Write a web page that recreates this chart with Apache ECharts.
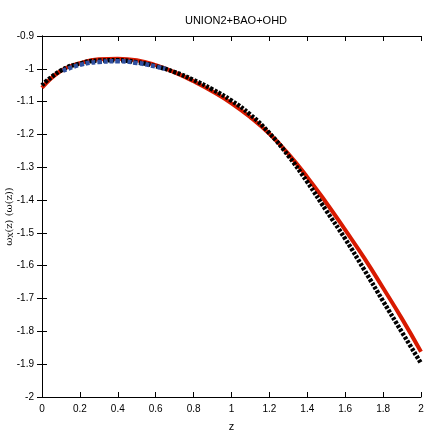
<!DOCTYPE html>
<html>
<head>
<meta charset="utf-8">
<script src="https://cdn.jsdelivr.net/npm/echarts@6/dist/echarts.min.js"></script>
<style>
  html, body { margin: 0; padding: 0; background: #fff; }
  #chart { width: 436px; height: 436px; }
</style>
</head>
<body>
<div id="chart"></div>
<script>
// redshift samples
const zValues = [0, 0.1, 0.2, 0.3, 0.4, 0.5, 0.6, 0.7, 0.8, 0.9, 1.0,
  1.1, 1.2, 1.3, 1.4, 1.5, 1.6, 1.7, 1.8, 1.9, 2.0];
// red solid curve
const redValues = [-1.058, -1.006, -0.983, -0.971, -0.969, -0.974, -0.989, -1.011, -1.038, -1.069, -1.105,
  -1.148, -1.198, -1.259, -1.330, -1.408, -1.491, -1.576, -1.668, -1.762, -1.862];
// black dotted curve
const blackValues = [-1.050, -1.005, -0.984, -0.975, -0.974, -0.980, -0.992, -1.010, -1.034, -1.063, -1.097,
  -1.140, -1.196, -1.265, -1.345, -1.432, -1.518, -1.612, -1.708, -1.803, -1.897];
// blue dashed segment
const blueZ = [0.11, 0.2, 0.3, 0.4, 0.5, 0.6, 0.65];
const blueValues = [-1.006, -0.988, -0.979, -0.977, -0.982, -0.993, -1.000];

const font = "Liberation Sans Narrow, Liberation Sans, sans-serif";

function pairs(xs, ys) {
  return xs.map((x, i) => [x, ys[i]]);
}

const chart = echarts.init(document.getElementById("chart"));
const tickStyle = { show: true, inside: true, length: 5, lineStyle: { color: "#000", width: 1 } };
const option = {
  animation: false,
  title: {
    text: "UNION2+BAO+OHD",
    left: 231,
    top: 10,
    textAlign: "center",
    textStyle: { fontFamily: font, fontSize: 11, fontWeight: "normal", color: "#000" },
  },
  grid: { left: 42, right: 15, top: 36, bottom: 39, containLabel: false, outerBoundsMode: "none" },
  xAxis: [
    {
      type: "value",
      min: 0,
      max: 2,
      interval: 0.2,
      name: "z",
      nameLocation: "middle",
      nameGap: 24,
      nameMoveOverlap: false,
      nameTextStyle: { fontFamily: font, fontSize: 11, color: "#000" },
      axisLine: { lineStyle: { color: "#000", width: 1 } },
      axisTick: tickStyle,
      axisLabel: { fontFamily: font, fontSize: 10, color: "#000", margin: 7 },
      splitLine: { show: false },
    },
    {
      type: "value",
      position: "top",
      min: 0,
      max: 2,
      interval: 0.2,
      axisLine: { lineStyle: { color: "#000", width: 1 } },
      axisTick: tickStyle,
      axisLabel: { show: false },
      splitLine: { show: false },
    },
  ],
  yAxis: [
    {
      type: "value",
      min: -2,
      max: -0.9,
      interval: 0.1,
      name: "ω{s|X}(z) (ω(z))",
      nameLocation: "middle",
      nameGap: 27,
      nameMoveOverlap: false,
      nameRotate: 90,
      nameTextStyle: {
        fontFamily: "DejaVu Serif, serif",
        fontSize: 10,
        color: "#000",
        rich: { s: { fontFamily: "DejaVu Serif, serif", fontSize: 7, verticalAlign: "bottom", padding: [4, 0, 0, 0] } },
      },
      axisLine: { lineStyle: { color: "#000", width: 1 } },
      axisTick: tickStyle,
      axisLabel: { fontFamily: font, fontSize: 10, color: "#000", margin: 8 },
      splitLine: { show: false },
    },
    {
      type: "value",
      position: "right",
      min: -2,
      max: -0.9,
      interval: 0.1,
      axisLine: { show: true, lineStyle: { color: "#000", width: 1 } },
      axisTick: tickStyle,
      axisLabel: { show: false },
      splitLine: { show: false },
    },
  ],
  series: [
    {
      type: "line",
      data: pairs(zValues, redValues),
      smooth: true,
      symbol: "none",
      lineStyle: { color: "#d81a00", width: 4 },
      z: 2,
    },
    {
      type: "line",
      data: pairs(zValues, blackValues),
      smooth: true,
      symbol: "none",
      lineStyle: { color: "#000", width: 4.5, type: [3, 1.5] },
      z: 3,
    },
    {
      type: "line",
      data: pairs(blueZ, blueValues),
      smooth: true,
      symbol: "none",
      lineStyle: { color: "#2e4fa0", width: 4.5, type: [4, 2] },
      z: 4,
    },
  ],
};
chart.setOption(option);
</script>
</body>
</html>
